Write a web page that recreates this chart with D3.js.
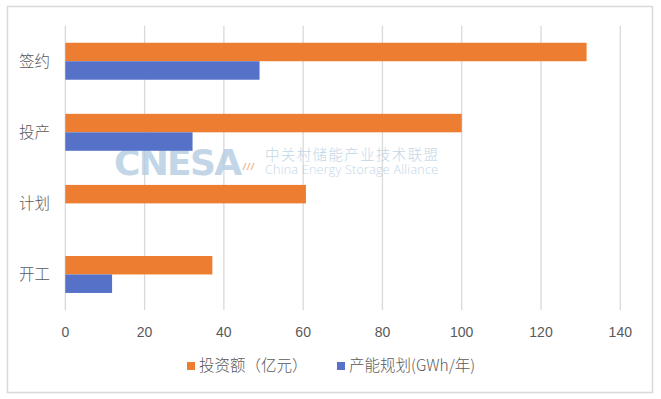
<!DOCTYPE html>
<html lang="zh">
<head>
<meta charset="UTF-8">
<title>投资额与产能规划</title>
<script src="https://cdn.jsdelivr.net/npm/d3@7/dist/d3.min.js"></script>
<style>
    body { margin: 0; background: #fff; }
    text { font-family: "Noto Sans CJK SC", "Liberation Sans", sans-serif; font-weight: 300; }
</style>
</head>
<body>
<script>
    // 数据
    var categories = ["签约", "投产", "计划", "开工"];
    var seriesNames = ["投资额（亿元）", "产能规划(GWh/年)"];
    var invest = [131.5, 100, 60.7, 37.1];
    var capacity = [49.0, 32.1, 0, 11.8];
    var xTicks = [0, 20, 40, 60, 80, 100, 120, 140];
    var colors = ["#ED7D31", "#5571C8"];

    var width = 661, height = 399;
    var svg = d3.select("body").append("svg")
        .attr("width", width)
        .attr("height", height);

    // 外框
    svg.append("rect")
        .attr("x", 7.5).attr("y", 6.5)
        .attr("width", 645).attr("height", 386)
        .attr("fill", "#fff")
        .attr("stroke", "#d9d9d9")
        .attr("stroke-width", 1.5);

    var plotLeft = 65.3, plotRight = 620.3, plotTop = 25.7, plotBottom = 310;

    var x = d3.scaleLinear().domain([0, 140]).range([plotLeft, plotRight]);
    var y = d3.scaleBand().domain(categories).range([plotTop, plotBottom])
        .paddingInner(0.48).paddingOuter(0.24);
    var ySub = d3.scaleBand().domain([0, 1]).range([0, y.bandwidth()]);

    // 网格线
    svg.append("g").selectAll("line")
        .data(xTicks)
        .enter().append("line")
        .attr("x1", function (d) { return x(d); })
        .attr("x2", function (d) { return x(d); })
        .attr("y1", plotTop).attr("y2", plotBottom)
        .attr("stroke", "#d9d9d9")
        .attr("stroke-width", 1.3);

    // 水印
    var wm = svg.append("g").attr("opacity", 0.8);
    wm.append("text")
        .attr("x", 114).attr("y", 175)
        .style("font-family", "'DejaVu Sans', sans-serif")
        .style("font-weight", "bold")
        .attr("font-size", 36)
        .attr("textLength", 128)
        .attr("fill", "#b3cde2")
        .text("CNESA");
    [0, 1, 2].forEach(function (i) {
        wm.append("line")
            .attr("x1", 243 + i * 4).attr("y1", 170)
            .attr("x2", 246 + i * 4).attr("y2", 163)
            .attr("stroke", "#f3b48a")
            .attr("stroke-width", 1.5);
    });
    wm.append("text")
        .attr("x", 265).attr("y", 160)
        .attr("font-size", 14.5)
        .attr("textLength", 173)
        .attr("fill", "#b3cde2")
        .text("中关村储能产业技术联盟");
    wm.append("text")
        .attr("x", 265).attr("y", 174)
        .style("font-family", "'Open Sans', sans-serif")
        .attr("font-size", 12.5)
        .attr("textLength", 173)
        .attr("fill", "#b3cde2")
        .text("China Energy Storage Alliance");

    // 柱子
    var series = [invest, capacity];
    series.forEach(function (vals, s) {
        svg.append("g").selectAll("rect")
            .data(vals)
            .enter().append("rect")
            .attr("x", x(0))
            .attr("y", function (d, i) { return y(categories[i]) + ySub(s); })
            .attr("width", function (d) { return x(d) - x(0); })
            .attr("height", ySub.bandwidth())
            .attr("fill", colors[s]);
    });

    // y轴标签
    svg.append("g").selectAll("text")
        .data(categories)
        .enter().append("text")
        .attr("x", 50)
        .attr("y", function (d) { return y(d) + y.bandwidth() / 2; })
        .attr("dy", "0.35em")
        .attr("text-anchor", "end")
        .attr("font-size", 15.5)
        .attr("fill", "#595959")
        .text(function (d) { return d; });

    // x轴刻度
    svg.append("g").selectAll("text")
        .data(xTicks)
        .enter().append("text")
        .attr("x", function (d) { return x(d); })
        .attr("y", 332)
        .attr("dy", "0.35em")
        .attr("text-anchor", "middle")
        .style("font-family", "'Liberation Sans', sans-serif")
        .attr("font-size", 14)
        .attr("fill", "#595959")
        .text(function (d) { return d; });

    // 图例
    var legendX = [187, 337];
    seriesNames.forEach(function (name, s) {
        svg.append("rect")
            .attr("x", legendX[s]).attr("y", 362)
            .attr("width", 8).attr("height", 8)
            .attr("fill", colors[s]);
        svg.append("text")
            .attr("x", legendX[s] + 12).attr("y", 366)
            .attr("dy", "0.35em")
            .attr("font-size", 15.5)
            .attr("fill", "#595959")
            .text(name);
    });
</script>
</body>
</html>
